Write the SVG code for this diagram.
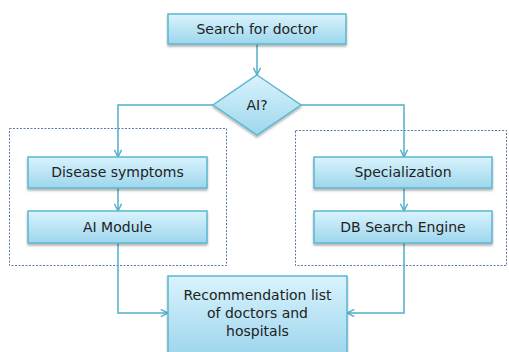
<svg xmlns="http://www.w3.org/2000/svg" width="509" height="352" viewBox="0 0 509 352">
<defs>
<linearGradient id="g" x1="0" y1="0" x2="0" y2="1">
<stop offset="0" stop-color="#d9f3fd"/>
<stop offset="1" stop-color="#9dd6ec"/>
</linearGradient>
<filter id="sh" x="-10%" y="-20%" width="120%" height="150%">
<feDropShadow dx="0" dy="2" stdDeviation="1.2" flood-color="#000" flood-opacity="0.3"/>
</filter>
<marker id="arr" viewBox="0 0 10 10" refX="9" refY="5" markerWidth="9" markerHeight="9" orient="auto" markerUnits="userSpaceOnUse">
<path d="M1,1 L9,5 L1,9" fill="none" stroke="#4fb0c8" stroke-width="1.6"/>
</marker>
<style>
.box{fill:url(#g);stroke:#5bb7cf;stroke-width:1.5;filter:url(#sh)}
.t{font-family:"DejaVu Sans",Verdana,sans-serif;font-size:14px;fill:#222;text-anchor:middle}
.c{fill:none;stroke:#4fb0c8;stroke-width:1.5}
.grp{fill:none;stroke:#5a78ad;stroke-width:1;stroke-dasharray:2,1.5}
</style>
</defs>
<g id="groups">
<rect class="grp" x="9.5" y="128.5" width="217" height="137"/>
<rect class="grp" x="295.5" y="130.5" width="211" height="135"/>
</g>
<g id="connectors">
<path class="c" d="M257,44 V75" marker-end="url(#arr)"/>
<path class="c" d="M213,105 H118 V157" marker-end="url(#arr)"/>
<path class="c" d="M301,105 H404 V157" marker-end="url(#arr)"/>
<path class="c" d="M118,188 V211" marker-end="url(#arr)"/>
<path class="c" d="M404,188 V211" marker-end="url(#arr)"/>
<path class="c" d="M118,243 V313 H168" marker-end="url(#arr)"/>
<path class="c" d="M404,243 V313 H347" marker-end="url(#arr)"/>
</g>
<g id="search">
<rect class="box" x="168" y="14" width="178" height="30"/>
<text class="t" x="257" y="34">Search for doctor</text>
</g>
<g id="ai">
<polygon class="box" points="257,75 301,105 257,135 213,105"/>
<text class="t" x="257" y="110">AI?</text>
</g>
<g id="disease">
<rect class="box" x="28" y="157" width="179" height="31"/>
<text class="t" x="117.5" y="177">Disease symptoms</text>
</g>
<g id="aimodule">
<rect class="box" x="28" y="211" width="179" height="32"/>
<text class="t" x="117.5" y="232">AI Module</text>
</g>
<g id="special">
<rect class="box" x="314" y="157" width="178" height="31"/>
<text class="t" x="403" y="177">Specialization</text>
</g>
<g id="db">
<rect class="box" x="314" y="211" width="178" height="32"/>
<text class="t" x="403" y="232">DB Search Engine</text>
</g>
<g id="rec">
<rect class="box" x="168" y="276" width="179" height="80"/>
<text class="t" x="257.5" y="300">Recommendation list</text>
<text class="t" x="257.5" y="318">of doctors and</text>
<text class="t" x="257.5" y="336">hospitals</text>
</g>
</svg>
